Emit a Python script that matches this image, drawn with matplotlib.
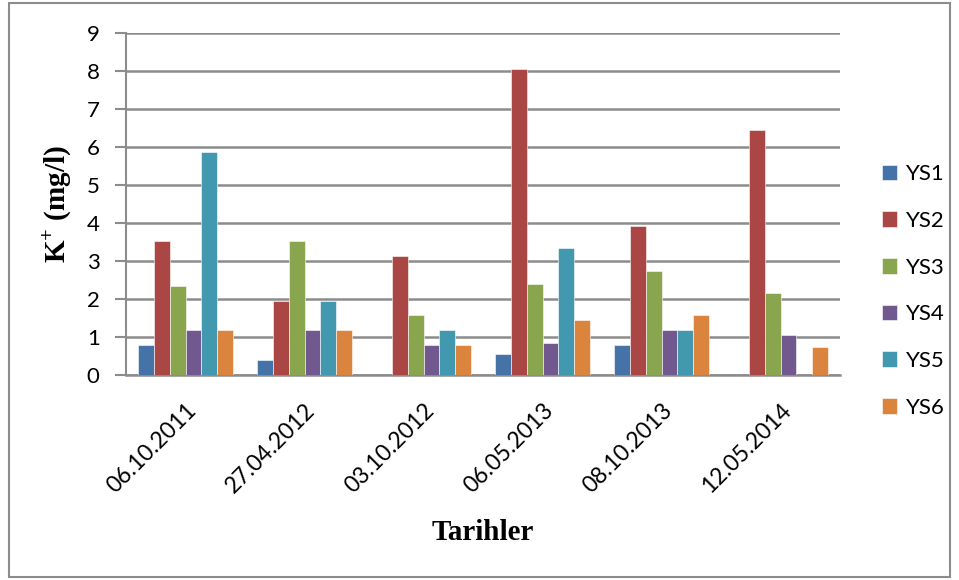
import matplotlib
matplotlib.use('Agg')
import matplotlib.pyplot as plt
import numpy as np
from matplotlib.patches import Rectangle

dates = ['06.10.2011', '27.04.2012', '03.10.2012', '06.05.2013', '08.10.2013', '12.05.2014']
series = ['YS1', 'YS2', 'YS3', 'YS4', 'YS5', 'YS6']
ys1 = [0.77, 0.39, 0.0, 0.55, 0.77, 0.0]
ys2 = [3.52, 1.95, 3.12, 8.04, 3.91, 6.44]
ys3 = [2.34, 3.52, 1.56, 2.39, 2.74, 2.14]
ys4 = [1.17, 1.17, 0.77, 0.83, 1.17, 1.04]
ys5 = [5.87, 1.95, 1.17, 3.34, 1.17, 0.0]
ys6 = [1.17, 1.17, 0.77, 1.45, 1.56, 0.73]
colors = ['#4572A7', '#AA4643', '#89A54E', '#71588F', '#4198AF', '#DB843D']

values = [ys1, ys2, ys3, ys4, ys5, ys6]

plt.rcParams['mathtext.fontset'] = 'custom'
plt.rcParams['mathtext.rm'] = 'Liberation Serif:bold'

fig = plt.figure(figsize=(9.59, 5.8), dpi=100)
ax = fig.add_axes([0.1314, 0.354, 0.7446, 0.5896])

x = np.arange(len(dates))
w = 0.8 / len(series)
for i, (name, vals) in enumerate(zip(series, values)):
    ax.bar(x - 0.4 + w * (i + 0.5), vals, width=w, color=colors[i],
           edgecolor='white', linewidth=0.4, label=name, zorder=3)

ax.set_xlim(-0.5, len(dates) - 0.5)
ax.set_ylim(0, 9)
ax.set_yticks(range(10))
ax.yaxis.grid(True, color='#8c8c8c', linewidth=1.8, zorder=0)
ax.set_axisbelow(True)

for s in ['top', 'right']:
    ax.spines[s].set_visible(False)
ax.spines['left'].set_color('#8c8c8c')
ax.spines['left'].set_linewidth(1.5)
ax.spines['bottom'].set_color('#8c8c8c')
ax.spines['bottom'].set_linewidth(1.8)

ax.tick_params(axis='y', length=8, width=1.5, color='#8c8c8c', labelsize=16, pad=11)
ax.tick_params(axis='x', length=0, labelsize=16.5, pad=18)
ax.set_xticks(x)
ax.set_xticklabels(dates, rotation=45, ha='right', va='top', rotation_mode='anchor',
                   fontfamily='Lato')
for lab in ax.get_yticklabels():
    lab.set_fontfamily('Lato')

ax.set_xlabel('Tarihler', fontsize=21, fontweight='bold', fontfamily='Liberation Serif',
              labelpad=16)
ax.set_ylabel('K$^{+}$ (mg/l)', fontsize=21, fontweight='bold', fontfamily='Liberation Serif',
              labelpad=10)

leg = ax.legend(loc='center left', bbox_to_anchor=(1.03, 0.245), frameon=False,
                prop={'family': 'Lato', 'size': 16}, handlelength=0.7, handleheight=0.7,
                labelspacing=1.2, handletextpad=0.4)

fig.patches.append(Rectangle((9 / 959, 3 / 580), 941 / 959, 574 / 580, transform=fig.transFigure,
                             fill=False, edgecolor='#8c8c8c', linewidth=1.5))

fig.savefig('out.png', dpi=100)
